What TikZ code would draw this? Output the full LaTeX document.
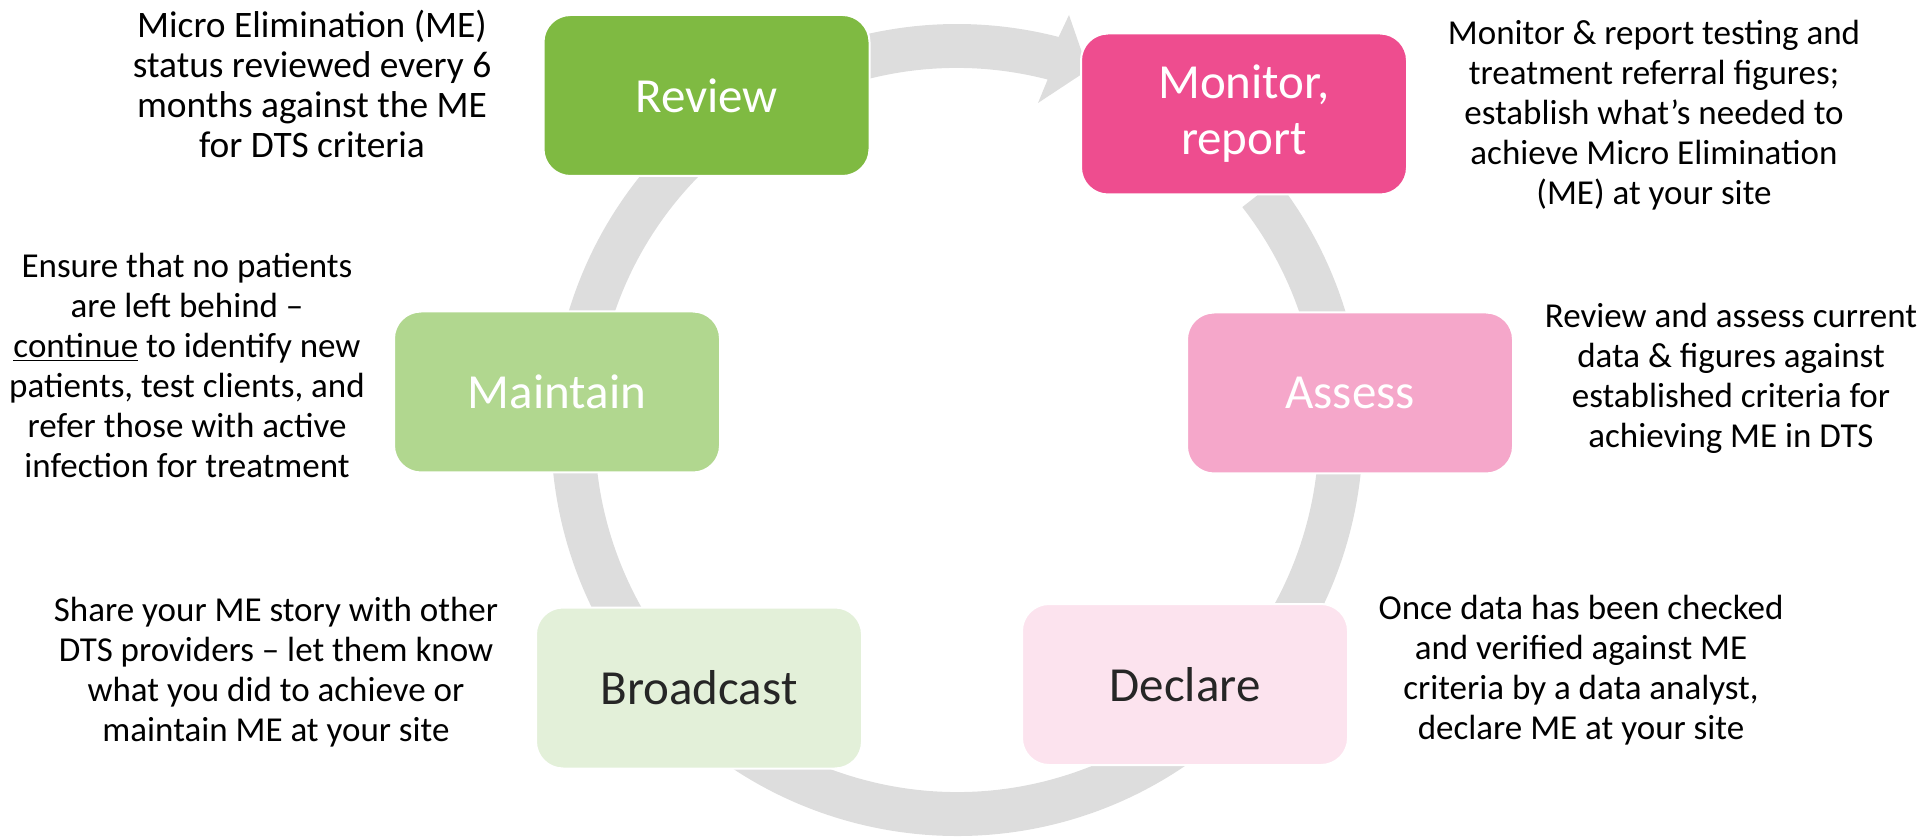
\documentclass[tikz,border=0pt]{standalone}
\usepackage{fontspec}
\setmainfont{Carlito}
\usetikzlibrary{calc}
\definecolor{ringgray}{HTML}{DDDDDD}
\definecolor{reviewgreen}{HTML}{7FBA42}
\definecolor{monitorpink}{HTML}{EE4D8F}
\definecolor{assesspink}{HTML}{F5A7CA}
\definecolor{declarepink}{HTML}{FCE3EE}
\definecolor{broadcastgreen}{HTML}{E3F0D9}
\definecolor{maintaingreen}{HTML}{B1D78F}
\definecolor{darktext}{HTML}{262626}
\begin{document}
\begin{tikzpicture}[x=0.5pt,y=0.5pt,
  stage/.style={draw=white, line width=1pt, rounded corners=13.5pt,
    minimum width=163pt, minimum height=80.5pt, inner sep=0pt,
    align=center, font=\fontsize{24.5}{28}\selectfont},
  note/.style={align=center, inner sep=0pt, text=black,
    font=\fontsize{17.5}{20}\selectfont}]
\useasboundingbox (0,0) rectangle (1921,836);

% continuous cycle ring with its arrow head near the top
\coordinate (C) at (957,406);
\coordinate (barbout) at (1069,821);
\coordinate (tip) at (1088,766);
\coordinate (barbin) at (1038,733);
\fill[ringgray] ($(C)+(38:406)$) arc[start angle=38, end angle=-284.5, radius=406]
  -- (barbout) -- (tip) -- (barbin) -- ($(C)+(75.5:362)$)
  arc[start angle=75.5, end angle=398, radius=362] -- cycle;

% stages
\node[stage, fill=reviewgreen, text=white] (review) at (706.5,740.5) {Review};
\node[stage, fill=monitorpink, text=white] (monitor) at (1244,722) {Monitor,\\report};
\node[stage, fill=assesspink, text=white] (assess) at (1350,443) {Assess};
\node[stage, fill=declarepink, text=darktext] (declare) at (1185,151.5) {Declare};
\node[stage, fill=broadcastgreen, text=darktext] (broadcast) at (699,148) {Broadcast};
\node[stage, fill=maintaingreen, text=white] (maintain) at (557,444) {Maintain};

% descriptions
\node[note, font=\fontsize{18.7}{20}\selectfont] (reviewnote) at (312,752) {Micro Elimination (ME)\\status reviewed every 6\\months against the ME\\for DTS criteria};
\node[note] (monitornote) at (1654,721) {Monitor \& report testing and\\treatment referral figures;\\establish what’s needed to\\achieve Micro Elimination\\(ME) at your site};
\node[note] (maintainnote) at (187,471) {Ensure that no patients\\are left behind –\\\underline{continue} to identify new\\patients, test clients, and\\refer those with active\\infection for treatment};
\node[note] (assessnote) at (1731,458) {Review and assess current\\data \& figures against\\established criteria for\\achieving ME in DTS};
\node[note] (declarenote) at (1581,166) {Once data has been checked\\and verified against ME\\criteria by a data analyst,\\declare ME at your site};
\node[note] (broadcastnote) at (276,164) {Share your ME story with other\\DTS providers – let them know\\what you did to achieve or\\maintain ME at your site};
\end{tikzpicture}
\end{document}
